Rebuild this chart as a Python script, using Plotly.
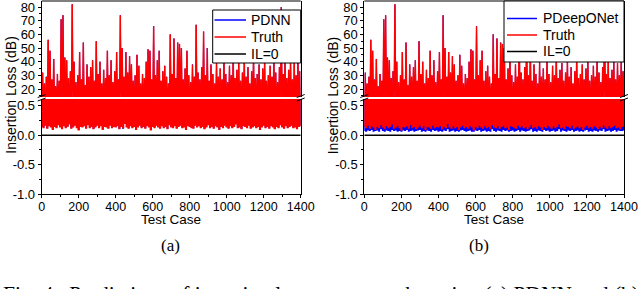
import plotly.graph_objects as go

# ---------------- data ----------------
case_floor = list(range(0, 1401, 10))      # test cases with pass-band (low) IL
case_peak = list(range(5, 1400, 10))       # test cases with high IL

truth_peak = [
    32, 24, 29, 56, 48, 27, 42, 22, 31, 26,
    71, 74, 43, 41, 28, 33, 82, 40, 25, 30,
    47, 27, 54, 23, 38, 29, 36, 41, 26, 55,
    31, 40, 24, 34, 28, 48, 30, 41, 25, 33,
    47, 27, 74, 50, 29, 47, 32, 44, 38, 26,
    30, 45, 37, 24, 31, 28, 40, 49, 48, 27,
    66, 30, 41, 48, 26, 33, 37, 29, 24, 60,
    31, 57, 28, 54, 53, 50, 27, 35, 48, 30,
    25, 38, 29, 67, 32, 27, 36, 62, 30, 50,
    26, 38, 31, 24, 40, 29, 35, 27, 44, 31,
    25, 37, 30, 46, 28, 34, 39, 26, 32, 42,
    29, 36, 24, 33, 45, 28, 31, 38, 27, 35,
    41, 26, 30, 37, 29, 43, 32, 25, 36, 80,
    31, 40, 28, 34, 41, 27, 39, 30, 41, 33,
]

truth_floor = [
    0.14, 0.12, 0.16, 0.11, 0.15, 0.13, 0.09, 0.14, 0.12, 0.17,
    0.13, 0.10, 0.15, 0.12, 0.14, 0.18, 0.11, 0.13, 0.16, 0.12,
    0.08, 0.14, 0.13, 0.15, 0.11, 0.17, 0.12, 0.14, 0.10, 0.13,
    0.16, 0.12, 0.15, 0.09, 0.14, 0.13, 0.11, 0.16, 0.12, 0.14,
    0.13, 0.15, 0.10, 0.14, 0.12, 0.19, 0.13, 0.11, 0.15, 0.12,
    0.14, 0.09, 0.13, 0.16, 0.12, 0.14, 0.11, 0.15, 0.13, 0.08,
    0.14, 0.12, 0.16, 0.13, 0.11, 0.15, 0.12, 0.14, 0.10, 0.17,
    0.13, 0.12, 0.15, 0.11, 0.14, 0.16, 0.12, 0.13, 0.09, 0.15,
    0.14, 0.12, 0.11, 0.16, 0.13, 0.15, 0.12, 0.14, 0.10, 0.13,
    0.17, 0.12, 0.14, 0.11, 0.15, 0.13, 0.09, 0.14, 0.12, 0.16,
    0.13, 0.11, 0.15, 0.12, 0.14, 0.18, 0.12, 0.13, 0.10, 0.15,
    0.14, 0.12, 0.16, 0.11, 0.13, 0.15, 0.12, 0.14, 0.09, 0.13,
    0.16, 0.12, 0.14, 0.11, 0.15, 0.13, 0.10, 0.14, 0.12, 0.17,
    0.13, 0.11, 0.15, 0.12, 0.14, 0.16, 0.12, 0.13, 0.10, 0.14,
    0.15,
]

# PDNN follows the truth almost exactly (hidden behind the red trace)
pdnn_peak = truth_peak
pdnn_floor = [
    0.15, 0.13, 0.17, 0.12, 0.16, 0.14, 0.10, 0.15, 0.13, 0.18,
    0.14, 0.11, 0.16, 0.13, 0.15, 0.19, 0.12, 0.14, 0.17, 0.13,
    0.09, 0.15, 0.14, 0.16, 0.12, 0.18, 0.13, 0.15, 0.11, 0.14,
    0.17, 0.13, 0.16, 0.10, 0.15, 0.14, 0.12, 0.17, 0.13, 0.15,
    0.14, 0.16, 0.11, 0.15, 0.11, 0.20, 0.14, 0.12, 0.16, 0.13,
    0.15, 0.10, 0.14, 0.17, 0.13, 0.15, 0.12, 0.16, 0.14, 0.09,
    0.15, 0.13, 0.17, 0.14, 0.12, 0.16, 0.13, 0.15, 0.11, 0.18,
    0.14, 0.13, 0.16, 0.12, 0.15, 0.17, 0.13, 0.14, 0.10, 0.16,
    0.15, 0.13, 0.12, 0.17, 0.14, 0.16, 0.13, 0.15, 0.11, 0.14,
    0.18, 0.13, 0.15, 0.12, 0.16, 0.14, 0.10, 0.15, 0.13, 0.17,
    0.14, 0.12, 0.16, 0.13, 0.15, 0.19, 0.13, 0.14, 0.11, 0.16,
    0.15, 0.13, 0.17, 0.12, 0.14, 0.16, 0.13, 0.15, 0.10, 0.14,
    0.17, 0.13, 0.15, 0.12, 0.16, 0.14, 0.11, 0.15, 0.13, 0.18,
    0.14, 0.12, 0.16, 0.13, 0.15, 0.17, 0.13, 0.14, 0.11, 0.15,
    0.16,
]

# PDeepONet: high-IL cases match the truth, pass-band cases sit lower
pdeeponet_peak = truth_peak
pdeeponet_floor = [
    0.07, 0.06, 0.08, 0.07, 0.09, 0.06, 0.07, 0.08, 0.06, 0.10,
    0.07, 0.06, 0.08, 0.07, 0.06, 0.09, 0.07, 0.08, 0.06, 0.07,
    0.06, 0.08, 0.07, 0.09, 0.06, 0.07, 0.08, 0.06, 0.07, 0.08,
    0.09, 0.06, 0.07, 0.06, 0.08, 0.07, 0.06, 0.09, 0.07, 0.08,
    0.06, 0.07, 0.06, 0.08, 0.07, 0.10, 0.06, 0.07, 0.08, 0.06,
    0.07, 0.06, 0.08, 0.09, 0.07, 0.06, 0.07, 0.08, 0.06, 0.06,
    0.08, 0.07, 0.09, 0.06, 0.07, 0.08, 0.06, 0.07, 0.06, 0.10,
    0.07, 0.06, 0.08, 0.07, 0.06, 0.09, 0.07, 0.08, 0.06, 0.07,
    0.08, 0.06, 0.07, 0.09, 0.06, 0.08, 0.07, 0.06, 0.07, 0.08,
    0.10, 0.06, 0.07, 0.06, 0.08, 0.07, 0.06, 0.09, 0.07, 0.08,
    0.06, 0.07, 0.08, 0.06, 0.07, 0.10, 0.06, 0.08, 0.07, 0.06,
    0.08, 0.07, 0.09, 0.06, 0.07, 0.08, 0.06, 0.07, 0.06, 0.08,
    0.09, 0.06, 0.07, 0.06, 0.08, 0.07, 0.06, 0.08, 0.07, 0.10,
    0.06, 0.07, 0.08, 0.06, 0.07, 0.09, 0.06, 0.08, 0.07, 0.07,
    0.08,
]

il_zero_x = [0, 1400]
il_zero_y = [0, 0]

x_ticks = [0, 200, 400, 600, 800, 1000, 1200, 1400]
low_ticks = [-1.0, -0.5, 0.0, 0.5]
low_tick_text = ["-1.0", "-0.5", "0.0", "0.5"]
high_ticks = [20, 30, 40, 50, 60, 70, 80]

panel_series = [
    ("PDNN", pdnn_floor, pdnn_peak),
    ("PDeepONet", pdeeponet_floor, pdeeponet_peak),
]
legend_labels = [["PDNN", "Truth", "IL=0"], ["PDeepONet", "Truth", "IL=0"]]
caption_labels = ["(a)", "(b)"]
caption = "Fig. 4.  Predictions of insertion loss on test set by using (a) PDNN and (b) PDeepONet."

# ---------------- layout geometry (pixels) ----------------
W, H = 640, 289
def px(x):
    return x / W
def py(y):
    return 1 - y / H

panels_px = [(41.7, 300.7), (364.3, 624.0)]
top_seg = (1.0, 97.0)       # pixel rows of upper (dB) segment
low_seg = (99.0, 194.3)     # pixel rows of lower segment
# legend boxes: (left, top, right, bottom), line start/end, text x, row ys
legend_box = [(212.7, 10.0, 300.7, 63.0), (504.0, 1.0, 624.0, 62.0)]
legend_line = [(214.5, 246.0), (507.0, 537.0)]
legend_text_x = [249.0, 541.0]
legend_rows = [(20.0, 37.0, 54.0), (18.5, 35.0, 51.5)]

FONT = "Liberation Sans"
SERIF = "Liberation Serif"
RED = "#FF0000"
BLUE = "#0000FF"
legend_colors = [BLUE, RED, "black"]


def interleave(floor, peak):
    xs, ys = [], []
    for i in range(len(floor)):
        xs.append(case_floor[i])
        ys.append(floor[i])
        if i < len(peak):
            xs.append(case_peak[i])
            ys.append(peak[i])
    return xs, ys


fig = go.Figure()
layout = dict(
    width=W, height=H, autosize=False,
    margin=dict(l=0, r=0, t=0, b=0, autoexpand=False),
    paper_bgcolor="white", plot_bgcolor="white",
    font=dict(family=FONT, size=13, color="black"),
    showlegend=False,
)
shapes = []
annotations = []

for p, (x0, x1) in enumerate(panels_px):
    xa = "x" if p == 0 else "x2"
    ylow = "y" if p == 0 else "y3"
    yhigh = "y2" if p == 0 else "y4"
    name, pfloor, ppeak = panel_series[p]

    xs_pred, ys_pred = interleave(pfloor, ppeak)
    xs_true, ys_true = interleave(truth_floor, truth_peak)

    for ya, lw in ((yhigh, 0.8), (ylow, 2.0)):
        fig.add_trace(go.Scatter(
            x=xs_pred, y=ys_pred, mode="lines", name=name,
            line=dict(color=BLUE, width=lw, simplify=False), xaxis=xa, yaxis=ya,
            hoverinfo="skip"))
    for ya, lw in ((yhigh, 1.4), (ylow, 2.2)):
        fig.add_trace(go.Scatter(
            x=xs_true, y=ys_true, mode="lines", name="Truth",
            line=dict(color=RED, width=lw, simplify=False), xaxis=xa, yaxis=ya,
            hoverinfo="skip"))
    fig.add_trace(go.Scatter(
        x=il_zero_x, y=il_zero_y, mode="lines", name="IL=0",
        line=dict(color="black", width=1.5), xaxis=xa, yaxis=ylow,
        hoverinfo="skip"))

    xkey = "xaxis" if p == 0 else "xaxis2"
    lowkey = "yaxis" if p == 0 else "yaxis3"
    highkey = "yaxis2" if p == 0 else "yaxis4"

    common = dict(ticks="outside", ticklen=3, tickwidth=1, tickcolor="black",
                  showline=True, linecolor="black", linewidth=1,
                  showgrid=False, zeroline=False, automargin=False,
                  ticklabeloverflow="allow")
    layout[xkey] = dict(
        domain=[px(x0), px(x1)], range=[0, 1400], anchor=ylow,
        tickvals=x_ticks, mirror=False, ticklabelstandoff=-2,
        tickfont=dict(family=FONT, size=12.5, color="black"),
        minor=dict(dtick=100, tick0=0, ticks="outside", ticklen=2, tickcolor="black"),
        **common)
    layout[lowkey] = dict(
        domain=[py(low_seg[1]), py(low_seg[0])], range=[-1.0, 0.613],
        anchor=xa, tickvals=low_ticks, ticktext=low_tick_text, mirror=True,
        tickfont=dict(family=FONT, size=13, color="black"),
        minor=dict(dtick=0.25, tick0=0, ticks="outside", ticklen=2, tickcolor="black"),
        **common)
    layout[highkey] = dict(
        domain=[py(top_seg[1]), py(top_seg[0])], range=[14.15, 84.4],
        anchor=xa, tickvals=high_ticks, mirror=True,
        tickfont=dict(family=FONT, size=13, color="black"),
        minor=dict(dtick=5, tick0=0, ticks="outside", ticklen=2, tickcolor="black"),
        **common)

    # top border of the upper segment
    shapes.append(dict(type="line", xref="paper", yref="paper",
                       x0=px(x0), x1=px(x1), y0=py(top_seg[0]), y1=py(top_seg[0]),
                       line=dict(color="black", width=1)))
    # axis-break marks on both vertical axes
    for xe in (x0, x1):
        for yb in (96.0, 99.5):
            shapes.append(dict(type="line", xref="paper", yref="paper",
                               x0=px(xe - 4), x1=px(xe + 4),
                               y0=py(yb + 1.5), y1=py(yb - 1.5),
                               line=dict(color="black", width=1)))

    # legend box
    bl, bt, br, bb = legend_box[p]
    shapes.append(dict(type="rect", xref="paper", yref="paper", layer="above",
                       x0=px(bl), x1=px(br), y0=py(bb), y1=py(bt),
                       fillcolor="white", line=dict(color="black", width=1)))
    la, lb = legend_line[p]
    for label, col, ry in zip(legend_labels[p], legend_colors, legend_rows[p]):
        shapes.append(dict(type="line", xref="paper", yref="paper", layer="above",
                           x0=px(la), x1=px(lb), y0=py(ry), y1=py(ry),
                           line=dict(color=col, width=1.5)))
        annotations.append(dict(text=label, x=px(legend_text_x[p]), y=py(ry),
                                xref="paper", yref="paper", showarrow=False,
                                xanchor="left", yanchor="middle",
                                font=dict(family=FONT, size=14, color="black")))

    xc = (x0 + x1) / 2
    annotations.append(dict(text="Insertion Loss (dB)", textangle=-90,
                            x=px(x0 - 31), y=py(95), xref="paper", yref="paper",
                            showarrow=False, xanchor="center", yanchor="middle",
                            font=dict(family=FONT, size=14, color="black")))
    annotations.append(dict(text="Test Case", x=px(xc), y=py(219.5),
                            xref="paper", yref="paper", showarrow=False,
                            xanchor="center", yanchor="middle",
                            font=dict(family=FONT, size=13.5, color="black")))
    annotations.append(dict(text=caption_labels[p], x=px(xc - 1 if p == 0 else xc - 15),
                            y=py(245), xref="paper", yref="paper", showarrow=False,
                            xanchor="center", yanchor="middle",
                            font=dict(family=SERIF, size=17, color="black")))

annotations.append(dict(text=caption, x=px(1), y=py(293.5), xref="paper", yref="paper",
                        showarrow=False, xanchor="left", yanchor="middle",
                        font=dict(family=SERIF, size=21.5, color="black")))

layout["shapes"] = shapes
layout["annotations"] = annotations
fig.update_layout(**layout)
fig.write_html("out.html", config={"displayModeBar": False},
               post_script="document.body.style.margin='0';document.body.style.padding='0';")
